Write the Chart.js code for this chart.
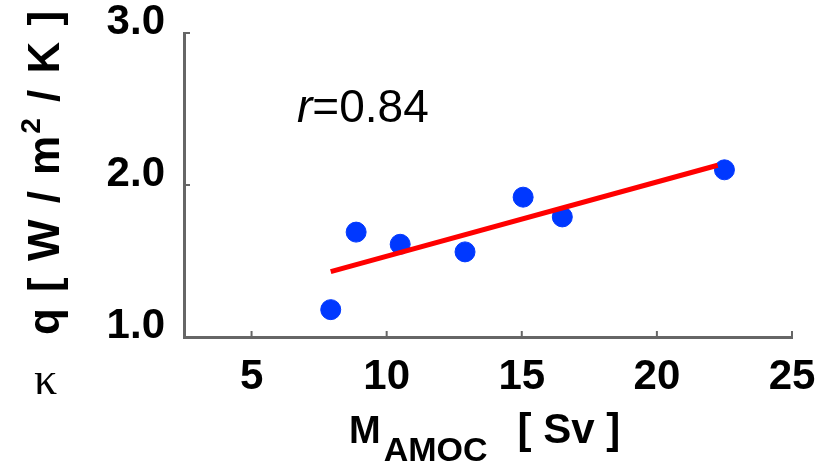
<!DOCTYPE html>
<html>
<head>
<meta charset="utf-8">
<script src="https://cdn.jsdelivr.net/npm/chart.js@4/dist/chart.umd.min.js"></script>
<style>
  html, body { margin: 0; padding: 0; background: #ffffff; }
  #wrap { width: 818px; height: 466px; }
</style>
</head>
<body>
<div id="wrap"><canvas id="chart"></canvas></div>
<script>
// AMOC strength (Sv) vs q (W/m2/K)
const AMOC = [7.93, 8.87, 10.5, 12.9, 15.05, 16.5, 22.5];
const Q    = [1.18, 1.69, 1.61, 1.56, 1.92, 1.79, 2.10];

// regression line end points
const FIT_X = [7.93, 22.25];
const FIT_Y = [1.43, 2.13];

const X_TICKS = [5, 10, 15, 20, 25];
const Y_TICKS = [1, 2, 3];
const R_VALUE = '0.84';

const AXIS_COLOR = '#666666';
const SANS = '"Liberation Sans", Arial, sans-serif';
const SERIF = '"Liberation Serif", "Times New Roman", serif';

// draws a row of text pieces (text, font, dy) starting at x
function drawRuns(ctx, runs, x, y) {
  runs.forEach(r => {
    ctx.font = r.font;
    ctx.fillText(r.text, x, y + (r.dy || 0));
    x += ctx.measureText(r.text).width + (r.gap || 0);
  });
}
function runsWidth(ctx, runs) {
  let w = 0;
  runs.forEach(r => { ctx.font = r.font; w += ctx.measureText(r.text).width + (r.gap || 0); });
  return w;
}

const decor = {
  id: 'decor',
  afterDatasetsDraw(chart) {
    const { ctx, chartArea: a, scales: { x, y } } = chart;
    ctx.save();

    // inward tick marks
    ctx.strokeStyle = AXIS_COLOR;
    ctx.lineWidth = 2;
    X_TICKS.forEach(v => {
      const px = x.getPixelForValue(v);
      ctx.beginPath(); ctx.moveTo(px, a.bottom); ctx.lineTo(px, a.bottom - 6); ctx.stroke();
    });
    Y_TICKS.slice(1).forEach(v => {
      const py = y.getPixelForValue(v);
      ctx.beginPath(); ctx.moveTo(a.left, py); ctx.lineTo(a.left + 6, py); ctx.stroke();
    });

    ctx.fillStyle = '#000000';
    ctx.textBaseline = 'alphabetic';
    ctx.textAlign = 'left';

    // r annotation
    drawRuns(ctx, [
      { text: 'r', font: `italic 46px ${SANS}` },
      { text: '=' + R_VALUE, font: `46px ${SANS}` },
    ], 297, 122);

    // x title  M_AMOC [ Sv ]
    drawRuns(ctx, [
      { text: 'M', font: `bold 38px ${SANS}`, gap: 3 },
      { text: 'AMOC', font: `bold 34px ${SANS}`, dy: 18, gap: 30 },
      { text: '[ Sv ]', font: `bold 42px ${SANS}` },
    ], 349, 443);

    // y title  q [ W / m^2 / K ]
    ctx.save();
    ctx.translate(59, 172);
    ctx.rotate(-Math.PI / 2);
    ctx.letterSpacing = '2px';
    const yRuns = [
      { text: 'q [ W / m', font: `bold 44px ${SANS}` },
      { text: '2', font: `bold 28px ${SANS}`, dy: -19 },
      { text: ' / K ]', font: `bold 44px ${SANS}` },
    ];
    const yw = runsWidth(ctx, yRuns);
    drawRuns(ctx, yRuns, -yw / 2, 0);
    ctx.restore();

    // stray kappa below the axis title
    ctx.font = `46px ${SERIF}`;
    ctx.fillText('\u03ba', 34, 394);

    ctx.restore();
  }
};

const points = AMOC.map((v, i) => ({ x: v, y: Q[i] }));
const fit = FIT_X.map((v, i) => ({ x: v, y: FIT_Y[i] }));

new Chart(document.getElementById('chart'), {
  type: 'scatter',
  data: {
    datasets: [
      {
        type: 'line',
        data: fit,
        borderColor: '#ff0000',
        borderWidth: 5,
        pointRadius: 0,
        fill: false,
      },
      {
        data: points,
        backgroundColor: '#0038ff',
        borderColor: '#0038ff',
        pointRadius: 10,
        pointHoverRadius: 10,
      },
    ],
  },
  options: {
    responsive: true,
    maintainAspectRatio: false,
    animation: false,
    events: [],
    layout: { padding: { top: 33, right: 26, left: 0, bottom: 0 } },
    plugins: { legend: { display: false }, tooltip: { enabled: false } },
    scales: {
      x: {
        type: 'linear',
        min: 2.5,
        max: 25,
        afterBuildTicks: s => { s.ticks = X_TICKS.map(v => ({ value: v })); },
        afterFit: s => { s.height = 129; s.paddingLeft = 0; s.paddingRight = 0; },
        grid: { drawOnChartArea: false, drawTicks: false },
        border: { display: true, color: AXIS_COLOR, width: 3 },
        ticks: {
          color: '#000000',
          font: { family: SANS, size: 42, weight: 'bold' },
          padding: 15,
          maxRotation: 0,
        },
      },
      y: {
        type: 'linear',
        min: 1,
        max: 3,
        afterBuildTicks: s => { s.ticks = Y_TICKS.map(v => ({ value: v })); },
        afterFit: s => { s.width = 184; s.paddingTop = 0; s.paddingBottom = 0; },
        grid: { drawOnChartArea: false, drawTicks: false },
        border: { display: true, color: AXIS_COLOR, width: 3 },
        ticks: {
          color: '#000000',
          font: { family: SANS, size: 42, weight: 'bold' },
          padding: 19,
          labelOffset: -11,
          callback: v => v.toFixed(1),
        },
      },
    },
  },
  plugins: [decor],
});
</script>
</body>
</html>
